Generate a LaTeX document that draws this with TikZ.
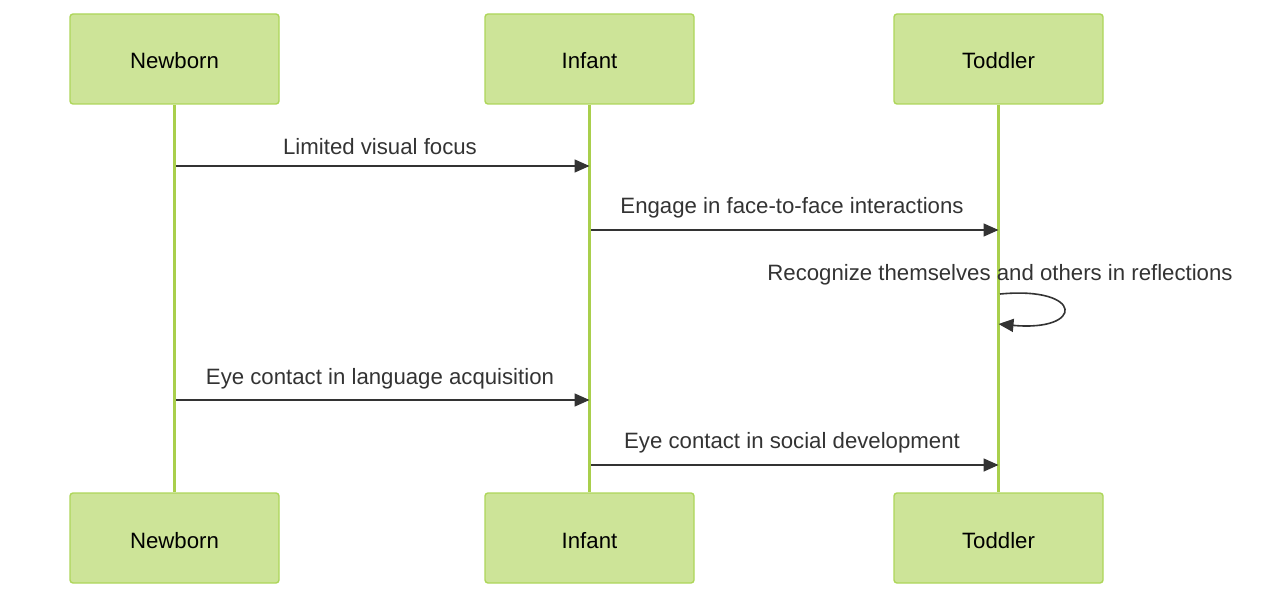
\documentclass[tikz,border=0pt]{standalone}
\usepackage{fontspec}
\setmainfont{Liberation Sans}
\usepackage{xcolor}
\usetikzlibrary{positioning,arrows.meta,calc}
\definecolor{seqFill}{HTML}{CDE498}
\definecolor{seqBorder}{HTML}{AED65A}
\definecolor{seqLine}{HTML}{A9CF4C}
\definecolor{seqText}{HTML}{333333}
\tikzset{
  actor/.style={draw=seqBorder,fill=seqFill,rounded corners=3pt,line width=1.4pt,
    minimum width=209pt,minimum height=90pt,inner sep=0pt,text height=20pt,text depth=0pt,
    font=\fontsize{22.2}{26}\selectfont,text=black},
  lifeline/.style={draw=seqLine,line width=2.6pt},
  msg/.style={-{Triangle[length=15pt,width=13pt]},line width=1.6pt,draw=seqText},
  msglabel/.style={font=\fontsize{22.2}{26}\selectfont,text=seqText,inner sep=0pt}
}
\begin{document}
\begin{tikzpicture}[x=1pt,y=-1pt]
  \useasboundingbox (0,0) rectangle (1280,599);
  % actors top and bottom
  \node[actor] (newbornT) at (174.5,59) {Newborn};
  \node[actor] (infantT) at (589.5,59) {Infant};
  \node[actor] (toddlerT) at (998.5,59) {Toddler};
  \node[actor] (newbornB) at (174.5,538) {Newborn};
  \node[actor] (infantB) at (589.5,538) {Infant};
  \node[actor] (toddlerB) at (998.5,538) {Toddler};

  % lifelines
  \draw[lifeline] (newbornT.south) -- (newbornB.north);
  \draw[lifeline] (infantT.south) -- (infantB.north);
  \draw[lifeline] (toddlerT.south) -- (toddlerB.north);

  % message anchors
  \coordinate (m1a) at (newbornT.south |- 0,166);
  \coordinate (m1b) at (infantT.south |- 0,166);
  \coordinate (m2a) at (infantT.south |- 0,230);
  \coordinate (m2b) at (toddlerT.south |- 0,230);
  \coordinate (m3a) at (toddlerT.south |- 0,294);
  \coordinate (m3b) at (toddlerT.south |- 0,324);
  \coordinate (m4a) at (newbornT.south |- 0,400);
  \coordinate (m4b) at (infantT.south |- 0,400);
  \coordinate (m5a) at (infantT.south |- 0,465);
  \coordinate (m5b) at (toddlerT.south |- 0,465);

  % messages
  \draw[msg] ($(m1a)+(1.5,0)$) -- (m1b);
  \node[msglabel] (l1) at ($(m1a)!0.5!(m1b)+(-2,-19)$) {Limited visual focus};
  \draw[msg] ($(m2a)+(1.5,0)$) -- (m2b);
  \node[msglabel] (l2) at ($(m2a)!0.5!(m2b)+(-2,-22)$) {Engage in face-to-face interactions};
  \draw[msg] ($(m3a)+(1.5,0)$) .. controls ($(m3a)+(86,-8)$) and ($(m3b)+(86,8)$) .. (m3b);
  \node[msglabel] (l3) at (1000,274.5) {Recognize themselves and others in reflections};
  \draw[msg] ($(m4a)+(1.5,0)$) -- (m4b);
  \node[msglabel] (l4) at ($(m4a)!0.5!(m4b)+(-2,-21)$) {Eye contact in language acquisition};
  \draw[msg] ($(m5a)+(1.5,0)$) -- (m5b);
  \node[msglabel] (l5) at ($(m5a)!0.5!(m5b)+(-2,-22)$) {Eye contact in social development};
\end{tikzpicture}
\end{document}
